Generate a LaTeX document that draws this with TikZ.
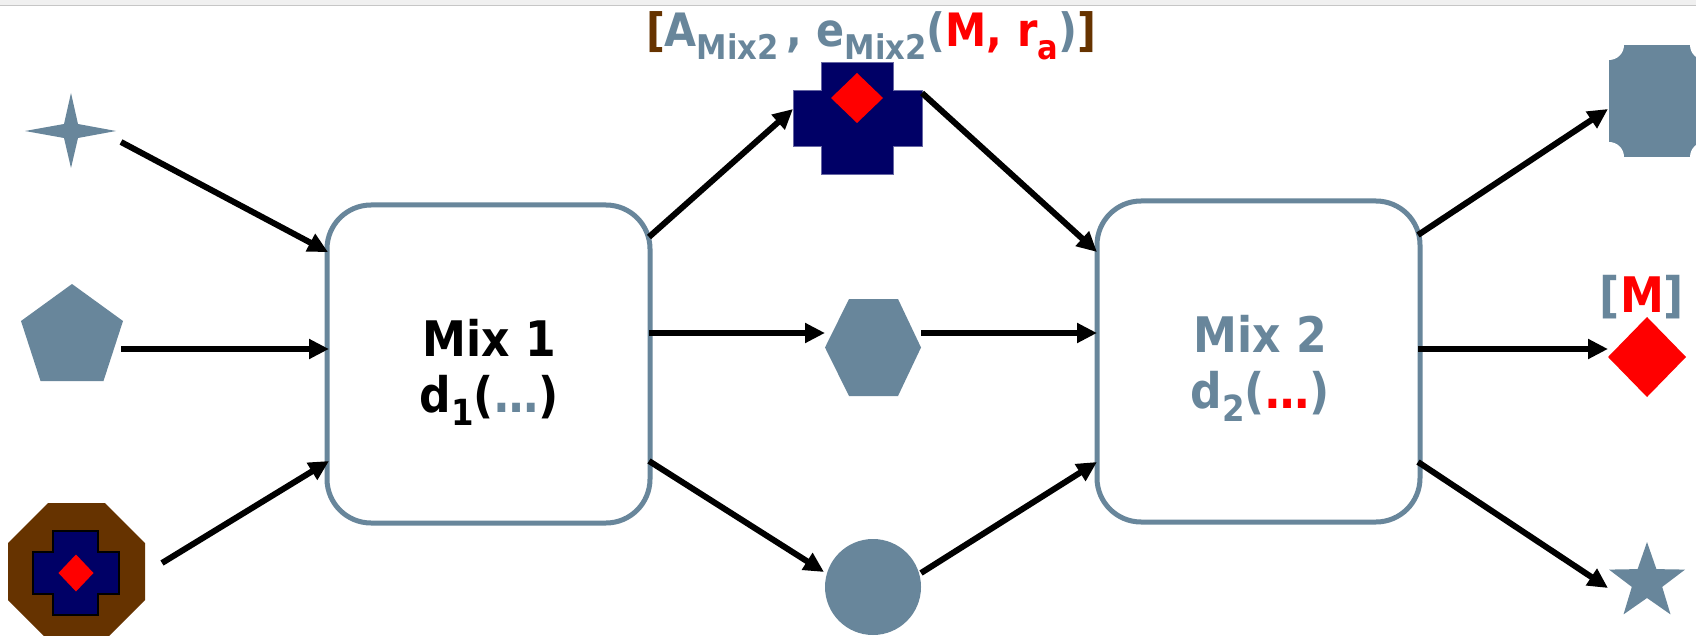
\documentclass[tikz,border=0pt]{standalone}
\usepackage{fontspec}
\setmainfont{DejaVu Sans}[FakeStretch=0.9]
\usetikzlibrary{arrows.meta}
\definecolor{slate}{RGB}{104,134,155}
\definecolor{navy}{RGB}{0,0,102}
\definecolor{brownc}{RGB}{102,51,0}
\definecolor{redc}{RGB}{255,0,0}
\newcommand\sbs[1]{\raisebox{-6.5pt}{\fontsize{17}{17}\selectfont #1}}
\newcommand\sbsb[1]{\raisebox{-6.5pt}{\fontsize{18}{18}\selectfont #1}}
\begin{document}
\begin{tikzpicture}[x=0.5pt,y=-0.5pt,
  arr/.style={line width=3pt, -{Triangle[length=10pt,width=9.5pt]}},
  mixbox/.style={draw=slate, line width=2.5pt, rounded corners=22pt, fill=white, minimum width=161.5pt, minimum height=159pt, inner sep=0pt},
  lbl/.style={font=\fontsize{24.5}{24.5}\selectfont\bfseries, anchor=base, inner sep=0pt},
  ]
\useasboundingbox (0,0) rectangle (1696,636);
\clip (0,0) rectangle (1696,636);
\fill[white] (0,0) rectangle (1696,636);
\fill[gray!12] (0,0) rectangle (1696,5);
\draw[gray!45, line width=0.8pt] (0,5.5) -- (1696,5.5);

% mix boxes
\node[mixbox] (m1) at (488.5,364) {};
\node[mixbox, minimum height=160.5pt] (m2) at (1258.5,361.5) {};
\node[lbl] (t1a) at (489,356) {Mix 1};
\node[lbl] (t1b) at (489,412) {d\sbsb{1}(\textcolor{slate}{…})};
\node[lbl, text=slate] (t2a) at (1260,352) {Mix 2};
\node[lbl, text=slate] (t2b) at (1260,408) {d\sbsb{2}(\textcolor{redc}{…})};

% labels
\node[font=\fontsize{23}{23}\selectfont\bfseries, anchor=base, inner sep=0pt] (toplbl) at (871,47)
  {\textcolor{brownc}{[}\textcolor{slate}{A\sbs{Mix2}\,, e\sbs{Mix2}(}\textcolor{redc}{M, r\sbs{a}}\textcolor{slate}{)}\textcolor{brownc}{]}};
\node[lbl] (mlbl) at (1642,312) {\textcolor{slate}{[}\textcolor{redc}{M}\textcolor{slate}{]}};

% left shapes
\fill[slate] (25,131) -- (64,124) -- (71,93) -- (78,124) -- (116,131) -- (78,138) -- (71,168) -- (64,138) -- cycle;
\fill[slate] (72,284) -- (123,321) -- (103.5,381) -- (40.5,381) -- (21,321) -- cycle;
\fill[brownc] (48,503) -- (105,503) -- (145,543) -- (145,600) -- (105,640) -- (48,640) -- (8,600) -- (8,543) -- cycle;
\filldraw[fill=navy, draw=black, line width=1pt] (53,531) -- (98,531) -- (98,552) -- (119,552) -- (119,594) -- (98,594) -- (98,615) -- (53,615) -- (53,594) -- (33,594) -- (33,552) -- (53,552) -- cycle;
\fill[redc] (76,554.5) -- (93.5,573) -- (76,591.5) -- (58.5,573) -- cycle;

% middle shapes
\filldraw[fill=navy, draw=navy!60!white, line width=0.5pt] (821,63) -- (893,63) -- (893,91) -- (922,91) -- (922,147) -- (893,147) -- (893,175) -- (821,175) -- (821,147) -- (793,147) -- (793,91) -- (821,91) -- cycle;
\fill[redc] (857,73) -- (883,98) -- (857,123) -- (831,98) -- cycle;
\fill[slate] (825,347.5) -- (849,299) -- (898,299) -- (921,347.5) -- (898,396) -- (849,396) -- cycle;
\node[circle, fill=slate, minimum size=48pt, inner sep=0pt] (circ) at (873,587) {};

% right shapes
\fill[slate] (1609,45) rectangle (1720,157);
\fill[white] (1609,45) circle[radius=7.5pt];
\fill[white] (1609,157) circle[radius=7.5pt];
\fill[white] (1705,45) circle[radius=7.5pt];
\fill[white] (1705,157) circle[radius=7.5pt];
\fill[redc] (1647,317) -- (1686,357) -- (1647,397) -- (1608,357) -- cycle;
\fill[slate] (1647,542) -- (1637.6,569.1) -- (1609,569.6) -- (1631.8,586.9) -- (1623.5,614.4) -- (1647,598) -- (1670.5,614.4) -- (1662.2,586.9) -- (1685,569.6) -- (1656.4,569.1) -- cycle;

% connector end points
\coordinate (s1) at (121,142); \coordinate (e1) at (328,252);
\coordinate (s2) at (121,349); \coordinate (e2) at (329,349);
\coordinate (s3) at (162,563); \coordinate (e3) at (329,461);
\coordinate (s4) at (649,237); \coordinate (e4) at (793,109);
\coordinate (s5) at (649,333); \coordinate (e5) at (825,333);
\coordinate (s6) at (649,461); \coordinate (e6) at (824,572);
\coordinate (s7) at (922,93);  \coordinate (e7) at (1097,252);
\coordinate (s8) at (921,333); \coordinate (e8) at (1097,333);
\coordinate (s9) at (921,573); \coordinate (e9) at (1097,462);
\coordinate (s10) at (1418,235); \coordinate (e10) at (1608,109);
\coordinate (s11) at (1418,349); \coordinate (e11) at (1608,349);
\coordinate (s12) at (1418,462); \coordinate (e12) at (1608,588);

\foreach \i in {1,...,12} { \draw[arr] (s\i) -- (e\i); }
\end{tikzpicture}
\end{document}
